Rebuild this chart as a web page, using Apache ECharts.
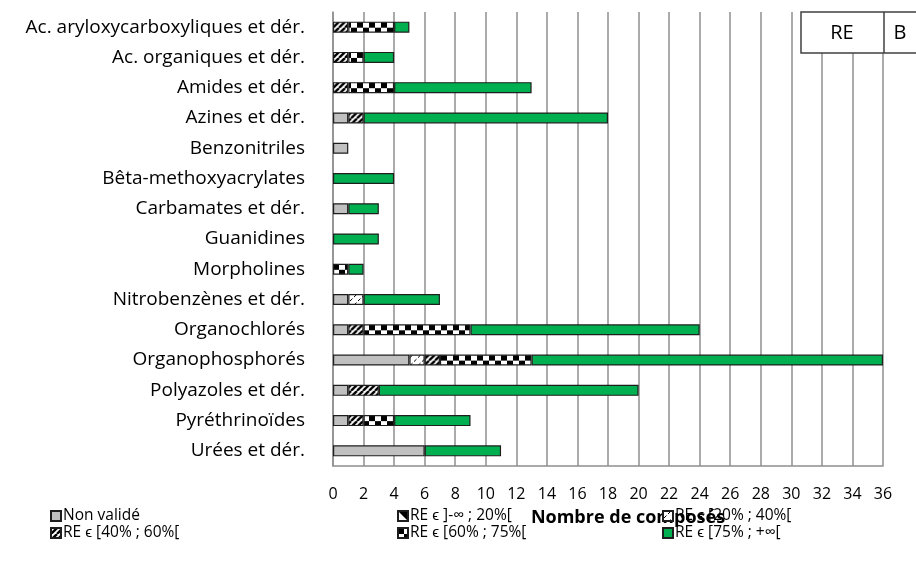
<!DOCTYPE html>
<html>
<head>
<meta charset="utf-8">
<script src="https://cdn.jsdelivr.net/npm/echarts@6/dist/echarts.min.js"></script>
<style>
  html, body { margin: 0; padding: 0; background: #fff; }
  #chart { width: 916px; height: 570px; }
</style>
</head>
<body>
<div id="chart"></div>
<script>
// Familles chimiques
const categories = [
  'Ac. aryloxycarboxyliques et dér.', 'Ac. organiques et dér.', 'Amides et dér.',
  'Azines et dér.', 'Benzonitriles', 'Bêta-methoxyacrylates', 'Carbamates et dér.',
  'Guanidines', 'Morpholines', 'Nitrobenzènes et dér.', 'Organochlorés',
  'Organophosphorés', 'Polyazoles et dér.', 'Pyréthrinoïdes', 'Urées et dér.'
];

// Nombre de composés par classe de rendement d'extraction
const nonValide = [0, 0, 0, 1, 1, 0, 1, 0, 0, 1, 1, 5, 1, 1, 6];
const re0_20    = [0, 0, 0, 0, 0, 0, 0, 0, 0, 0, 0, 0, 0, 0, 0];
const re20_40   = [0, 0, 0, 0, 0, 0, 0, 0, 0, 1, 0, 1, 0, 0, 0];
const re40_60   = [1, 1, 1, 1, 0, 0, 0, 0, 0, 0, 1, 1, 2, 1, 0];
const re60_75   = [3, 1, 3, 0, 0, 0, 0, 0, 1, 0, 7, 6, 0, 2, 0];
const re75      = [1, 2, 9, 16, 0, 4, 2, 3, 1, 5, 15, 23, 17, 5, 5];

const seriesNames = [
  'Non validé', 'RE ϵ ]-∞ ; 20%[', 'RE ϵ [20% ; 40%[',
  'RE ϵ [40% ; 60%[', 'RE ϵ [60% ; 75%[', 'RE ϵ [75% ; +∞['
];

const xTicks = { min: 0, max: 36, interval: 2 };

// ---- hatch tiles ----
function tile(w, h, draw) {
  const c = document.createElement('canvas');
  c.width = w; c.height = h;
  const g = c.getContext('2d');
  g.fillStyle = '#fff';
  g.fillRect(0, 0, w, h);
  g.fillStyle = '#000';
  g.strokeStyle = '#000';
  draw(g, w, h);
  return c;
}
const tileLow = tile(10, 10, (g) => {
  g.beginPath(); g.moveTo(0, 0); g.lineTo(10, 0); g.lineTo(10, 10); g.closePath(); g.fill();
});
const tileLight = tile(8, 8, (g) => {
  g.lineWidth = 1;
  g.beginPath(); g.moveTo(1, 7); g.lineTo(3.5, 4.5); g.stroke();
  g.beginPath(); g.moveTo(5, 3); g.lineTo(7.5, 0.5); g.stroke();
});
const tileBold = tile(6, 6, (g) => {
  g.lineWidth = 2.4;
  for (const o of [-6, 0, 6]) {
    g.beginPath(); g.moveTo(o, 6); g.lineTo(o + 6, 0); g.stroke();
  }
});
const tileChecker = tile(12, 12, (g) => {
  g.fillRect(0, 0, 6, 6);
  g.fillRect(6, 6, 6, 6);
});

const BAR_W = 11;
const seriesData = [nonValide, re0_20, re20_40, re40_60, re60_75, re75];
const seriesFill = ['#c0c0c0', tileLow, tileLight, tileBold, tileChecker, '#00b050'];

function fillFor(f, ox, oy) {
  if (typeof f === 'string') return f;
  return { image: f, repeat: 'repeat', x: ox || 0, y: oy || 0 };
}

function buildSeries(offsets) {
  return seriesNames.map((name, s) => ({
    name,
    type: 'bar',
    stack: 'total',
    barWidth: BAR_W,
    itemStyle: { color: fillFor(seriesFill[s]), borderColor: '#1e1e1e', borderWidth: 1.2 },
    emphasis: { disabled: true },
    data: seriesData[s].map((v, i) => {
      if (!v) return null;
      if (offsets && typeof seriesFill[s] !== 'string') {
        return { value: v, itemStyle: { color: fillFor(seriesFill[s], offsets.x, offsets.y[i]) } };
      }
      return v;
    })
  }));
}

const FONT = '"Open Sans", sans-serif';

const legendPos = [
  [50, 508], [397, 508], [662, 508],
  [50, 525], [397, 525], [662, 525]
];

const option = {
  animation: false,
  textStyle: { fontFamily: FONT },
  grid: { left: 333, right: 33, top: 12, bottom: 104, containLabel: false },
  xAxis: {
    type: 'value',
    min: xTicks.min, max: xTicks.max, interval: xTicks.interval,
    name: 'Nombre de composés',
    nameLocation: 'middle',
    nameGap: 43,
    nameTextStyle: { fontFamily: FONT, fontSize: 18, fontWeight: 'bold', color: '#000',
                     padding: [0, 0, 0, 40] },
    axisLine: { show: true, lineStyle: { color: '#8f8f8f', width: 1.5 } },
    axisTick: { show: false },
    axisLabel: { fontFamily: FONT, fontSize: 16, color: '#000', margin: 20 },
    splitLine: { show: true, lineStyle: { color: '#8f8f8f', width: 1.5 } }
  },
  yAxis: {
    type: 'category',
    inverse: true,
    data: categories,
    axisLine: { show: true, lineStyle: { color: '#8f8f8f', width: 1.5 } },
    axisTick: { show: false },
    axisLabel: { fontFamily: FONT, fontSize: 19, color: '#000', margin: 28 }
  },
  legend: seriesNames.map((n, k) => ({
    data: [n],
    left: legendPos[k][0],
    top: legendPos[k][1],
    padding: 0,
    itemWidth: 10,
    itemHeight: 10,
    icon: 'rect',
    selectedMode: false,
    textStyle: { fontFamily: FONT, fontSize: 15.5, color: '#000', padding: [0, 0, 0, -3] }
  })),
  graphic: [
    {
      type: 'rect',
      shape: { x: 801, y: 12, width: 130, height: 41 },
      style: { fill: '#fff', stroke: '#404040', lineWidth: 1.5 },
      z: 100
    },
    {
      type: 'line',
      shape: { x1: 884, y1: 12, x2: 884, y2: 53 },
      style: { stroke: '#404040', lineWidth: 1.5 },
      z: 101
    },
    {
      type: 'text',
      style: { text: 'RE', x: 842, y: 33, align: 'center', verticalAlign: 'middle',
               font: '20px ' + FONT, fill: '#000' },
      z: 101
    },
    {
      type: 'text',
      style: { text: 'B', x: 900, y: 33, align: 'center', verticalAlign: 'middle',
               font: '20px ' + FONT, fill: '#000' },
      z: 101
    }
  ],
  series: buildSeries(null)
};

const chart = echarts.init(document.getElementById('chart'), null, { renderer: 'canvas' });
chart.setOption(option);

// Anchor the hatch tiles to each bar's top-left so patterns line up inside the bars
const x0 = chart.convertToPixel({ xAxisIndex: 0 }, 0);
const yTops = categories.map((c, i) => chart.convertToPixel({ yAxisIndex: 0 }, i) - BAR_W / 2);
chart.setOption({ series: buildSeries({ x: x0, y: yTops }) });
</script>
</body>
</html>
